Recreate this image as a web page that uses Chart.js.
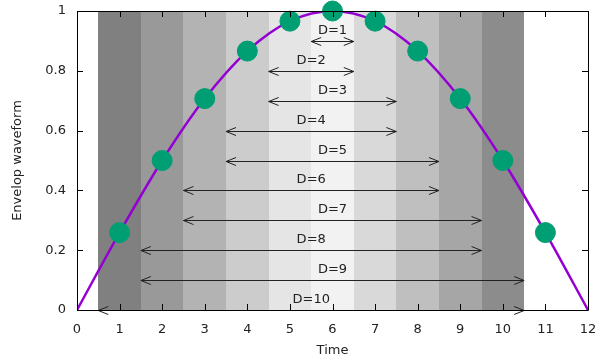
<!DOCTYPE html>
<html>
<head>
<meta charset="utf-8">
<script src="https://cdn.jsdelivr.net/npm/chart.js@4"></script>
<style>
  body { margin: 0; background: #fff; }
</style>
</head>
<body>
<canvas id="myChart" width="606" height="360"></canvas>
<script>
// envelope curve (purple line) and sample points (green dots)
var curveX = [0, 1, 2, 3, 4, 5, 6, 7, 8, 9, 10, 11, 12]
var curveY = [0, 0.259, 0.5, 0.707, 0.866, 0.966, 1, 0.966, 0.866, 0.707, 0.5, 0.259, 0]
var pointX = [1, 2, 3, 4, 5, 6, 7, 8, 9, 10, 11]
var pointY = [0.259, 0.5, 0.707, 0.866, 0.966, 1, 0.966, 0.866, 0.707, 0.5, 0.259]

// gray bands behind the curve
var bandFrom = [0.5, 1.5, 2.5, 3.5, 4.5, 5.5, 6.5, 7.5, 8.5, 9.5]
var bandTo = [1.5, 2.5, 3.5, 4.5, 5.5, 6.5, 7.5, 8.5, 9.5, 10.5]
var bandColors = ['#808080', '#999999', '#b3b3b3', '#cccccc', '#e5e5e5',
                  '#f2f2f2', '#d9d9d9', '#bfbfbf', '#a6a6a6', '#8c8c8c']

// double arrows with labels
var arrowLabels = ['D=1', 'D=2', 'D=3', 'D=4', 'D=5', 'D=6', 'D=7', 'D=8', 'D=9', 'D=10']
var arrowY = [0.9, 0.8, 0.7, 0.6, 0.5, 0.4, 0.3, 0.2, 0.1, 0]
var arrowFrom = [5.5, 4.5, 4.5, 3.5, 3.5, 2.5, 2.5, 1.5, 1.5, 0.5]
var arrowTo = [6.5, 6.5, 7.5, 7.5, 8.5, 8.5, 9.5, 9.5, 10.5, 10.5]

var xTicks = [0, 1, 2, 3, 4, 5, 6, 7, 8, 9, 10, 11, 12]
var yTicks = [0, 0.2, 0.4, 0.6, 0.8, 1]

var FONT = '"DejaVu Sans", sans-serif'

function head(c, x, y, dir) {
    c.beginPath()
    c.moveTo(x + dir * 10, y - 4)
    c.lineTo(x, y)
    c.lineTo(x + dir * 10, y + 4)
    c.stroke()
}

var decor = {
    id: 'decor',
    beforeDatasetsDraw: function(chart) {
        var c = chart.ctx, xs = chart.scales.x, ys = chart.scales.y, a = chart.chartArea
        c.save()
        for (var i = 0; i < bandFrom.length; i++) {
            var x0 = Math.round(xs.getPixelForValue(bandFrom[i]))
            var x1 = Math.round(xs.getPixelForValue(bandTo[i]))
            c.fillStyle = bandColors[i]
            c.fillRect(x0, a.top, x1 - x0, a.bottom - a.top)
        }
        c.restore()
    },
    afterDatasetsDraw: function(chart) {
        var c = chart.ctx, xs = chart.scales.x, ys = chart.scales.y, a = chart.chartArea
        c.save()
        c.strokeStyle = '#222'
        c.lineWidth = 1
        c.fillStyle = '#222'
        c.font = '13px ' + FONT
        c.textAlign = 'center'
        c.textBaseline = 'middle'
        for (var i = 0; i < arrowY.length; i++) {
            var y = Math.round(ys.getPixelForValue(arrowY[i])) + 0.5
            var x0 = xs.getPixelForValue(arrowFrom[i])
            var x1 = xs.getPixelForValue(arrowTo[i])
            c.beginPath()
            c.moveTo(x0, y)
            c.lineTo(x1, y)
            c.stroke()
            head(c, x0, y, 1)
            head(c, x1, y, -1)
            c.fillText(arrowLabels[i], (x0 + x1) / 2, y - 11)
        }
        c.restore()
    },
    afterDraw: function(chart) {
        var c = chart.ctx, xs = chart.scales.x, ys = chart.scales.y, a = chart.chartArea
        c.save()
        c.strokeStyle = '#000'
        c.lineWidth = 1
        c.beginPath()
        c.rect(Math.round(a.left) + 0.5, Math.round(a.top) + 0.5,
               Math.round(a.right - a.left), Math.round(a.bottom - a.top))
        c.stroke()
        c.beginPath()
        xTicks.forEach(function(v) {
            var x = Math.round(xs.getPixelForValue(v)) + 0.5
            c.moveTo(x, a.bottom); c.lineTo(x, a.bottom - 6)
            c.moveTo(x, a.top); c.lineTo(x, a.top + 6)
        })
        yTicks.forEach(function(v) {
            var y = Math.round(ys.getPixelForValue(v)) + 0.5
            c.moveTo(a.left, y); c.lineTo(a.left + 6, y)
            c.moveTo(a.right, y); c.lineTo(a.right - 6, y)
        })
        c.stroke()
        c.restore()
    }
}

var ctx = document.getElementById('myChart').getContext('2d')

var chart = new Chart(ctx, {
    type: 'scatter',
    data: {
        datasets: [{
                label: 'envelope',
                data: curveX.map(function(x, i) { return {x: x, y: curveY[i]} }),
                showLine: true,
                borderColor: '#9400d3',
                borderWidth: 2.5,
                pointRadius: 0,
                cubicInterpolationMode: 'monotone',
                order: 2
            },
            {
                label: 'samples',
                data: pointX.map(function(x, i) { return {x: x, y: pointY[i]} }),
                backgroundColor: '#009e73',
                borderColor: '#009e73',
                pointRadius: 10,
                clip: false,
                order: 1
            }
        ]
    },
    options: {
        responsive: false,
        animation: false,
        layout: { padding: { top: 10, right: 18, left: 0, bottom: 0 } },
        plugins: { legend: { display: false }, tooltip: { enabled: false } },
        scales: {
            x: {
                type: 'linear', min: 0, max: 12,
                afterBuildTicks: function(s) { s.ticks = xTicks.map(function(v) { return {value: v} }) },
                afterFit: function(s) { s.height = 50; s.paddingLeft = 0; s.paddingRight = 0 },
                grid: { display: false },
                border: { display: false },
                ticks: { color: '#222', padding: 4, font: { family: FONT, size: 13 } },
                title: { display: true, text: 'Time', color: '#222', padding: { top: 2, bottom: 2 },
                         font: { family: FONT, size: 13 } }
            },
            y: {
                min: 0, max: 1,
                afterBuildTicks: function(s) { s.ticks = yTicks.map(function(v) { return {value: v} }) },
                afterFit: function(s) { s.width = 77; s.paddingTop = 0; s.paddingBottom = 0 },
                grid: { display: false },
                border: { display: false },
                ticks: { color: '#222', padding: 3, font: { family: FONT, size: 13 },
                         callback: function(v) { return String(v) } },
                title: { display: true, text: 'Envelop waveform', color: '#222', padding: { top: 10, bottom: 4 },
                         font: { family: FONT, size: 13 } }
            }
        }
    },
    plugins: [decor]
})
</script>
</body>
</html>
